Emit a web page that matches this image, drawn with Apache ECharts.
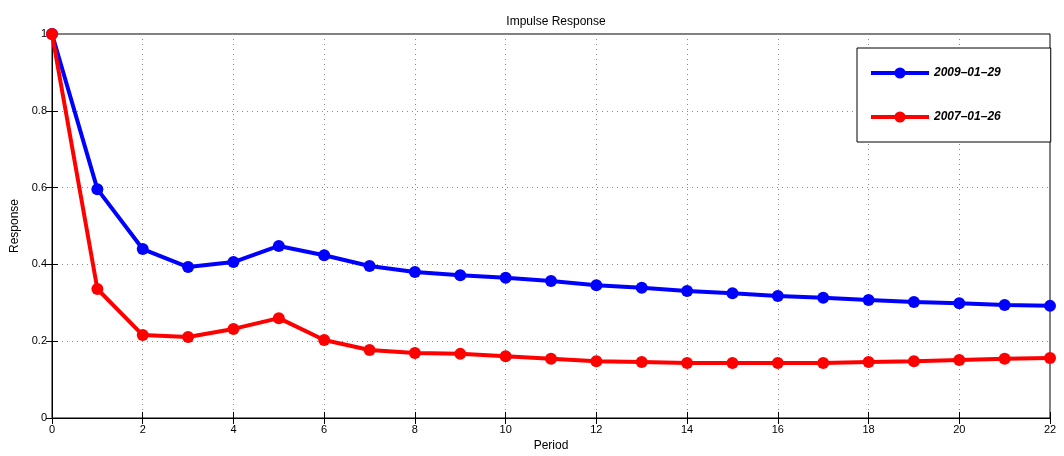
<!DOCTYPE html>
<html lang="en">
<head>
    <meta charset="UTF-8">
    <title>Impulse Response</title>
    <script src="https://cdn.jsdelivr.net/npm/echarts@6/dist/echarts.min.js"></script>
    <style>
        html, body { margin: 0; padding: 0; background: #fff; }
        #chart { width: 1064px; height: 456px; }
    </style>
</head>
<body>
    <div id="chart"></div>
    <script>
        // periods 0..22
        var periods = [0, 1, 2, 3, 4, 5, 6, 7, 8, 9, 10, 11, 12, 13, 14, 15, 16, 17, 18, 19, 20, 21, 22];
        var resp2009 = [1.0, 0.596, 0.440, 0.393, 0.406, 0.448, 0.424, 0.396, 0.380, 0.372, 0.365, 0.357,
            0.346, 0.339, 0.331, 0.325, 0.318, 0.313, 0.307, 0.302, 0.299, 0.294, 0.292];
        var resp2007 = [1.0, 0.336, 0.216, 0.211, 0.232, 0.260, 0.203, 0.177, 0.169, 0.167, 0.161, 0.154,
            0.148, 0.146, 0.143, 0.143, 0.143, 0.143, 0.146, 0.148, 0.151, 0.154, 0.156];
        var seriesNames = ['2009\u201301\u201329', '2007\u201301\u201326'];
        var colors = ['#0000ff', '#ff0000'];

        function pairs(vals) {
            return periods.map(function (p, i) { return [p, vals[i]]; });
        }

        var font = 'Liberation Sans, Arial, sans-serif';
        var gridLine = { show: true, lineStyle: { color: '#888', type: [1, 4], width: 1 } };
        // matlab style: ticks pointing inwards on all four sides
        var boxTick = { inside: true, length: 6, lineStyle: { color: '#000' } };

        var myChart = echarts.init(document.getElementById('chart'));
        var option = {
            animation: false,
            title: {
                text: 'Impulse Response',
                left: 551, top: 11, textAlign: 'center',
                textStyle: { fontSize: 12, fontWeight: 'normal', color: '#000', fontFamily: font }
            },
            legend: {
                orient: 'vertical',
                left: 857, top: 48,
                padding: [19, 50, 19, 12],
                itemGap: 32,
                itemWidth: 58, itemHeight: 14,
                borderColor: '#000', borderWidth: 1,
                backgroundColor: '#fff',
                data: seriesNames,
                lineStyle: { width: 4 },
                textStyle: { fontSize: 12, fontWeight: 'bold', fontStyle: 'italic', color: '#000', fontFamily: font }
            },
            grid: {
                left: 52, right: 14, top: 34, bottom: 38,
                outerBoundsMode: 'none', containLabel: false,
                show: true, borderColor: '#000', borderWidth: 1
            },
            xAxis: [{
                type: 'value', min: 0, max: 22, interval: 2,
                name: 'Period', nameLocation: 'middle', nameGap: 22,
                nameTextStyle: { fontSize: 12, color: '#000', fontFamily: font },
                axisLine: { show: true, lineStyle: { color: '#000' } },
                axisTick: boxTick,
                axisLabel: { fontSize: 11, color: '#000', margin: 6, fontFamily: font },
                splitLine: gridLine
            }, {
                type: 'value', min: 0, max: 22, interval: 2, position: 'top',
                axisLine: { show: true, lineStyle: { color: '#000' } },
                axisTick: boxTick,
                axisLabel: { show: false }, splitLine: { show: false }
            }],
            yAxis: [{
                type: 'value', min: 0, max: 1, interval: 0.2,
                name: 'Response', nameLocation: 'middle', nameGap: 30,
                nameTextStyle: { fontSize: 12, color: '#000', fontFamily: font },
                axisLine: { show: true, lineStyle: { color: '#000' } },
                axisTick: boxTick,
                axisLabel: { fontSize: 11, color: '#000', margin: 5, fontFamily: font,
                    formatter: function (v) { return v === 0 || v === 1 ? String(v) : v.toFixed(1); } },
                splitLine: gridLine
            }, {
                type: 'value', min: 0, max: 1, interval: 0.2, position: 'right',
                axisLine: { show: true, lineStyle: { color: '#000' } },
                axisTick: boxTick,
                axisLabel: { show: false }, splitLine: { show: false }
            }],
            series: [resp2009, resp2007].map(function (vals, i) {
                return {
                    name: seriesNames[i],
                    type: 'line',
                    data: pairs(vals),
                    symbol: 'circle', symbolSize: 12,
                    lineStyle: { color: colors[i], width: 4 },
                    itemStyle: { color: colors[i] },
                    z: 3 + i
                };
            })
        };
        myChart.setOption(option);
    </script>
</body>
</html>
